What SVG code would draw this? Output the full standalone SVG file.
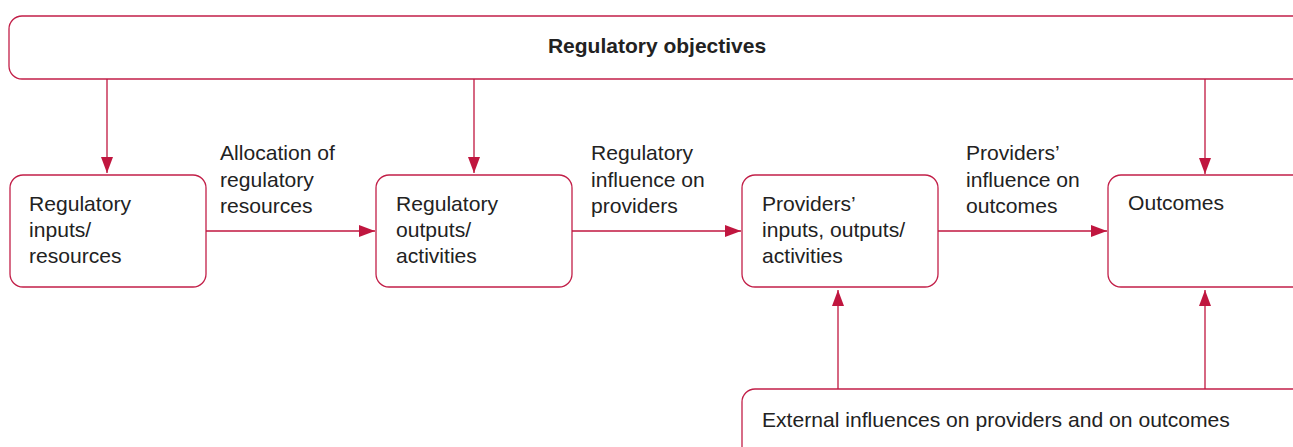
<svg xmlns="http://www.w3.org/2000/svg" width="1293" height="447" viewBox="0 0 1293 447">
<defs>
<style>
.box{fill:#fff;stroke:#c21f48;stroke-width:1.3}
.ln{stroke:#c0163f;stroke-width:1.3;fill:none}
text{font-family:"Liberation Sans",Arial,sans-serif;font-size:21.1px;fill:#222}
.b{font-weight:bold;font-size:21px}
</style>
<marker id="ah" viewBox="0 0 16 12" refX="16" refY="6" markerWidth="16" markerHeight="12" markerUnits="userSpaceOnUse" orient="auto">
<path d="M0,0 L16,6 L0,12 Z" fill="#c0163f"/>
</marker>
</defs>
<rect width="1293" height="447" fill="#fff"/>
<g id="objectives">
<rect class="box" x="9" y="16" width="1310" height="63" rx="13"/>
<text class="b" x="657" y="53" text-anchor="middle">Regulatory objectives</text>
</g>
<g id="inputs">
<rect class="box" x="10" y="175" width="196" height="112" rx="13"/>
<text x="29" y="211">Regulatory</text>
<text x="29" y="237">inputs/</text>
<text x="29" y="263">resources</text>
</g>
<g id="outputs">
<rect class="box" x="376" y="175" width="196" height="112" rx="13"/>
<text x="396" y="211">Regulatory</text>
<text x="396" y="237">outputs/</text>
<text x="396" y="263">activities</text>
</g>
<g id="providers">
<rect class="box" x="742" y="175" width="196" height="112" rx="13"/>
<text x="762" y="211">Providers’</text>
<text x="762" y="237">inputs, outputs/</text>
<text x="762" y="263">activities</text>
</g>
<g id="outcomes">
<rect class="box" x="1108" y="175" width="220" height="112" rx="13"/>
<text x="1128" y="210">Outcomes</text>
</g>
<g id="external">
<rect class="box" x="742" y="389" width="590" height="100" rx="13"/>
<text x="762" y="427">External influences on providers and on outcomes</text>
</g>
<g id="connectors">
<line class="ln" x1="107" y1="79" x2="107" y2="173" marker-end="url(#ah)"/>
<line class="ln" x1="474" y1="79" x2="474" y2="173" marker-end="url(#ah)"/>
<line class="ln" x1="1205" y1="79" x2="1205" y2="174" marker-end="url(#ah)"/>
<line class="ln" x1="206" y1="231" x2="375" y2="231" marker-end="url(#ah)"/>
<line class="ln" x1="572" y1="231" x2="741" y2="231" marker-end="url(#ah)"/>
<line class="ln" x1="938" y1="231" x2="1107" y2="231" marker-end="url(#ah)"/>
<line class="ln" x1="838" y1="389" x2="838" y2="290" marker-end="url(#ah)"/>
<line class="ln" x1="1205" y1="389" x2="1205" y2="290" marker-end="url(#ah)"/>
</g>
<g id="labels">
<text x="220" y="160">Allocation of</text>
<text x="220" y="187">regulatory</text>
<text x="220" y="213">resources</text>
<text x="591" y="160">Regulatory</text>
<text x="591" y="187">influence on</text>
<text x="591" y="213">providers</text>
<text x="966" y="160">Providers’</text>
<text x="966" y="187">influence on</text>
<text x="966" y="213">outcomes</text>
</g>
</svg>
